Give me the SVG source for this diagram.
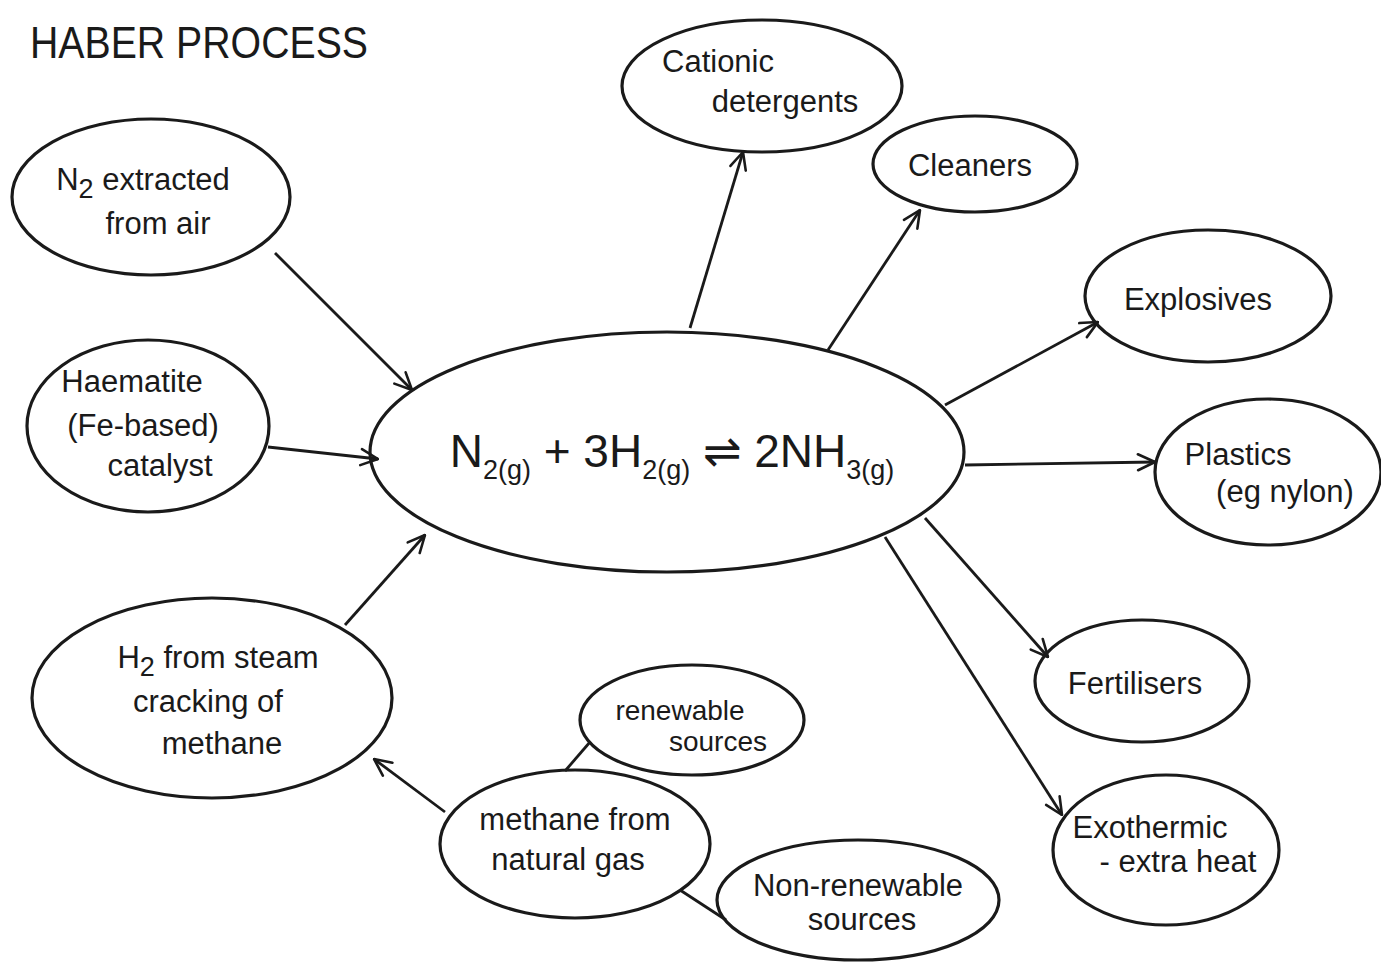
<svg xmlns="http://www.w3.org/2000/svg" width="1381" height="963" viewBox="0 0 1381 963">
  <style>
    .node { fill: none; stroke: #1a1a1a; stroke-width: 3.2; }
    .lbl { font-family: "Liberation Sans", "DejaVu Sans", sans-serif; font-size: 31px; fill: #1a1a1a; text-anchor: middle; }
    .eq { font-size: 46px; }
    .sub { font-size: 27px; }
    .small { font-size: 28px; }
    .title { font-family: "Liberation Sans", "DejaVu Sans", sans-serif; font-size: 44px; fill: #1a1a1a; }
    .conn { stroke: #1a1a1a; stroke-width: 2.8; fill: none; }
  </style>
  <defs>
    <!-- open V arrowhead, drawn in user units so it keeps its size -->
    <marker id="arrow" viewBox="0 0 20 20" refX="19" refY="10" markerWidth="20" markerHeight="20" markerUnits="userSpaceOnUse" orient="auto">
      <path d="M2,2 L19,10 L2,18" fill="none" stroke="#1a1a1a" stroke-width="2.6" stroke-linecap="round" stroke-linejoin="round"/>
    </marker>
  </defs>
  <rect width="1381" height="963" fill="#ffffff"/>

  <text class="title" x="30" y="58" textLength="338" lengthAdjust="spacingAndGlyphs">HABER PROCESS</text>

  <!-- connectors -->
  <g id="connectors">
    <line class="conn" x1="275" y1="253" x2="412" y2="390" marker-end="url(#arrow)"/>
    <line class="conn" x1="268" y1="447" x2="378" y2="459" marker-end="url(#arrow)"/>
    <line class="conn" x1="345" y1="625" x2="425" y2="535" marker-end="url(#arrow)"/>
    <line class="conn" x1="690" y1="328" x2="743" y2="152" marker-end="url(#arrow)"/>
    <line class="conn" x1="828" y1="350" x2="920" y2="210" marker-end="url(#arrow)"/>
    <line class="conn" x1="945" y1="405" x2="1098" y2="322" marker-end="url(#arrow)"/>
    <line class="conn" x1="965" y1="465" x2="1155" y2="462" marker-end="url(#arrow)"/>
    <line class="conn" x1="925" y1="518" x2="1048" y2="657" marker-end="url(#arrow)"/>
    <line class="conn" x1="885" y1="537" x2="1062" y2="815" marker-end="url(#arrow)"/>
    <line class="conn" x1="445" y1="812" x2="374" y2="759" marker-end="url(#arrow)"/>
    <line class="conn" x1="565" y1="771" x2="590" y2="742"/>
    <line class="conn" x1="680" y1="890" x2="726" y2="920"/>
  </g>

  <g id="reaction">
    <ellipse class="node" cx="667" cy="452" rx="297" ry="120"/>
    <text class="lbl eq" x="672" y="467">N<tspan class="sub" dy="12">2(g)</tspan><tspan dy="-12"> + 3H</tspan><tspan class="sub" dy="12">2(g)</tspan><tspan dy="-12"> ⇌ 2NH</tspan><tspan class="sub" dy="12">3(g)</tspan></text>
  </g>

  <g id="n2-air">
    <ellipse class="node" cx="151" cy="197" rx="139" ry="78"/>
    <text class="lbl" x="143" y="190">N<tspan class="sub" dy="8">2</tspan><tspan dy="-8"> extracted</tspan></text>
    <text class="lbl" x="158" y="234">from air</text>
  </g>

  <g id="catalyst">
    <ellipse class="node" cx="148" cy="426" rx="121" ry="86"/>
    <text class="lbl" x="132" y="392">Haematite</text>
    <text class="lbl" x="143" y="436">(Fe-based)</text>
    <text class="lbl" x="160" y="476">catalyst</text>
  </g>

  <g id="h2-steam">
    <ellipse class="node" cx="212" cy="698" rx="180" ry="100"/>
    <text class="lbl" x="218" y="668">H<tspan class="sub" dy="8">2</tspan><tspan dy="-8"> from steam</tspan></text>
    <text class="lbl" x="208" y="712">cracking of</text>
    <text class="lbl" x="222" y="754">methane</text>
  </g>

  <g id="detergents">
    <ellipse class="node" cx="762" cy="86" rx="140" ry="66"/>
    <text class="lbl" x="718" y="72">Cationic</text>
    <text class="lbl" x="785" y="112">detergents</text>
  </g>

  <g id="cleaners">
    <ellipse class="node" cx="975" cy="164" rx="102" ry="48"/>
    <text class="lbl" x="970" y="176">Cleaners</text>
  </g>

  <g id="explosives">
    <ellipse class="node" cx="1208" cy="296" rx="123" ry="66"/>
    <text class="lbl" x="1198" y="310">Explosives</text>
  </g>

  <g id="plastics">
    <ellipse class="node" cx="1268" cy="472" rx="113" ry="73"/>
    <text class="lbl" x="1238" y="465">Plastics</text>
    <text class="lbl" x="1285" y="502">(eg nylon)</text>
  </g>

  <g id="fertilisers">
    <ellipse class="node" cx="1142" cy="681" rx="107" ry="61"/>
    <text class="lbl" x="1135" y="694">Fertilisers</text>
  </g>

  <g id="exothermic">
    <ellipse class="node" cx="1166" cy="850" rx="113" ry="75"/>
    <text class="lbl" x="1150" y="838">Exothermic</text>
    <text class="lbl" x="1178" y="872">- extra heat</text>
  </g>

  <g id="renewable">
    <ellipse class="node" cx="692" cy="720" rx="112" ry="55"/>
    <text class="lbl small" x="680" y="720">renewable</text>
    <text class="lbl small" x="718" y="751">sources</text>
  </g>

  <g id="methane">
    <ellipse class="node" cx="575" cy="844" rx="135" ry="74"/>
    <text class="lbl" x="575" y="830">methane from</text>
    <text class="lbl" x="568" y="870">natural gas</text>
  </g>

  <g id="non-renewable">
    <ellipse class="node" cx="858" cy="900" rx="141" ry="60"/>
    <text class="lbl" x="858" y="896">Non-renewable</text>
    <text class="lbl" x="862" y="930">sources</text>
  </g>
</svg>
